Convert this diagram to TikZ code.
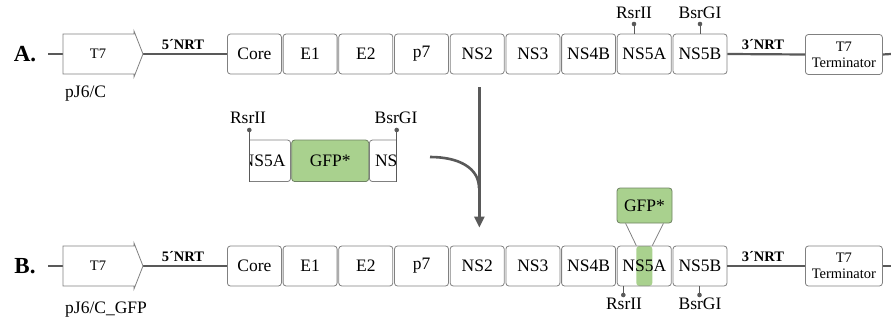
\documentclass[tikz,border=0pt]{standalone}
\usepackage{fontspec}
\setmainfont{Liberation Serif}
\usetikzlibrary{arrows.meta}
\definecolor{linegray}{HTML}{595959}
\definecolor{boxgray}{HTML}{808080}
\definecolor{gfpfill}{HTML}{A9D18E}
\definecolor{gfpedge}{HTML}{6E8262}
\tikzset{
  gene/.style={draw=boxgray, line width=0.8pt, fill=white, rounded corners=3pt,
    minimum width=54pt, minimum height=40pt, inner sep=0pt,
    font=\fontsize{17.5}{20}\selectfont},
  gfpbox/.style={gene, fill=gfpfill, draw=gfpedge},
  termbox/.style={gene, minimum width=77pt, align=center,
    font=\fontsize{14.5}{16}\selectfont},
  backbone/.style={draw=linegray, line width=2.2pt},
  promoter/.style={draw=boxgray, line width=0.8pt, fill=white},
  smalltxt/.style={inner sep=0pt, font=\fontsize{14.5}{16}\selectfont},
  nrt/.style={inner sep=0pt, font=\fontsize{14.5}{16}\selectfont\bfseries},
  rowlabel/.style={inner sep=0pt, font=\fontsize{23}{26}\selectfont\bfseries},
  sitetxt/.style={inner sep=0pt, font=\fontsize{17.5}{20}\selectfont},
  plasmid/.style={inner sep=0pt, anchor=west, font=\fontsize{17.5}{20}\selectfont},
  pinline/.style={draw=linegray, line width=1pt},
  pindot/.style={fill=linegray},
  bigline/.style={draw=linegray, line width=2.6pt},
  bigarrow/.style={bigline, -{Triangle[length=11pt,width=10pt]}},
}
\begin{document}
\begin{tikzpicture}[x=1pt,y=-1pt]
\useasboundingbox (0,0) rectangle (891,321);

% ---------- row A: pJ6/C ----------
\node[rowlabel] (lblA) at (25,54) {A.};
\coordinate (aStart) at (48,54);
\coordinate (aT7w) at (63,54);
\coordinate (aT7tip) at (143,54);
\coordinate (aEnd) at (891,54);
\foreach \n [count=\i from 0] in {Core,E1,E2,p7,NS2,NS3,NS4B,NS5A,NS5B}
  \node[gene, anchor=west] (a\i) at ({227+55.7*\i},54) {\n};
\node[termbox, anchor=west] (aTerm) at (805,54.5) {T7\\Terminator};
\draw[backbone] (aStart) -- (aT7w);
\draw[backbone] (aT7tip) -- (a0.west);
\draw[backbone] (a8.east) -- (aTerm.west);
\draw[backbone] (aTerm.east) -- (aEnd);
\draw[promoter] (63,34) -- (134,34) -- (134,31) -- (aT7tip) -- (134,77) -- (134,74) -- (63,74) -- cycle;
\node[smalltxt] (aT7) at (98,54) {T7};
\node[nrt] (a5nrt) at (183,45) {5´NRT};
\node[nrt] (a3nrt) at (763,45) {3´NRT};
\node[plasmid] (aName) at (65,94) {pJ6/C};
% restriction sites on NS5A / NS5B
\coordinate (aRs) at (634,24);
\coordinate (aBs) at (700,24);
\draw[pinline] (aRs) -- (634,34);
\draw[pinline] (aBs) -- (700,34);
\fill[pindot] (aRs) circle (2.3);
\fill[pindot] (aBs) circle (2.3);
\node[sitetxt] (aRsT) at (634,13) {RsrII};
\node[sitetxt] (aBsT) at (700,13) {BsrGI};

% ---------- insert fragment ----------
\begin{scope}
  \clip (249.3,100) rectangle (396.7,200);
  \node[gene, anchor=east, minimum height=41.5pt] (iA) at (291,160.8) {NS5A};
  \node[gene, anchor=west, minimum height=41.5pt] (iB) at (369,160.8) {NS5B};
\end{scope}
\node[gfpbox, anchor=west, minimum width=77pt, minimum height=41.5pt] (iG) at (291.3,160.8) {GFP*};
\coordinate (iRs) at (249.3,130);
\coordinate (iBs) at (396.7,130);
\draw[pinline] (iRs) -- (249.3,181.6);
\draw[pinline] (iBs) -- (396.7,181.6);
\fill[pindot] (iRs) circle (2.3);
\fill[pindot] (iBs) circle (2.3);
\node[sitetxt] (iRsT) at (248,118) {RsrII};
\node[sitetxt] (iBsT) at (396,118) {BsrGI};

% ---------- row B: pJ6/C_GFP ----------
\node[rowlabel] (lblB) at (25,266) {B.};
\coordinate (bStart) at (48,266);
\coordinate (bT7w) at (63,266);
\coordinate (bT7tip) at (143,266);
\coordinate (bEnd) at (891,266);
\foreach \n [count=\i from 0] in {Core,E1,E2,p7,NS2,NS3,NS4B}
  \node[gene, anchor=west] (b\i) at ({227+55.7*\i},266) {\n};
\node[gene, anchor=west, path picture={
    \fill[gfpfill] ([xshift=-8pt]path picture bounding box.south)
      rectangle ([xshift=8pt]path picture bounding box.north);}]
  (b7) at ({227+55.7*7},266) {NS5A};
\node[gene, anchor=west] (b8) at ({227+55.7*8},266) {NS5B};
\node[termbox, anchor=west] (bTerm) at (805,266) {T7\\Terminator};
\draw[backbone] (bStart) -- (bT7w);
\draw[backbone] (bT7tip) -- (b0.west);
\draw[backbone] (b8.east) -- (bTerm.west);
\draw[backbone] (bTerm.east) -- (bEnd);
\draw[promoter] (63,246) -- (134,246) -- (134,243) -- (bT7tip) -- (134,289) -- (134,286) -- (63,286) -- cycle;
\node[smalltxt] (bT7) at (98,266) {T7};
\node[nrt] (b5nrt) at (183,257) {5´NRT};
\node[nrt] (b3nrt) at (763,257) {3´NRT};
\node[plasmid] (bName) at (65,310) {pJ6/C\_GFP};
% GFP insertion into NS5A
\node[gfpbox, minimum width=55pt, minimum height=35pt] (bG) at (644.5,205.5) {GFP*};
\draw[draw=boxgray, line width=0.8pt] ([xshift=9pt]bG.south west) -- ([xshift=-8pt]b7.north);
\draw[draw=boxgray, line width=0.8pt] ([xshift=-9pt]bG.south east) -- ([xshift=8pt]b7.north);
% restriction sites below
\coordinate (bRs) at (623.3,295);
\coordinate (bBs) at (699.5,295);
\draw[pinline] (bRs) -- (623.3,286);
\draw[pinline] (bBs) -- (699.5,286);
\fill[pindot] (bRs) circle (2.3);
\fill[pindot] (bBs) circle (2.3);
\node[sitetxt] (bRsT) at (624,304) {RsrII};
\node[sitetxt] (bBsT) at (700,304) {BsrGI};

% ---------- cloning arrow ----------
\coordinate (cFrom) at (430,157);
\coordinate (cMerge) at (479,188);
\draw[bigarrow, shorten <=13pt, shorten >=18pt] ([xshift=2.2pt]a4.south) -- ([xshift=2.2pt]b4.north);
\draw[bigline] (cFrom) .. controls (459,157) and (479,168) .. (cMerge);
\end{tikzpicture}
\end{document}
